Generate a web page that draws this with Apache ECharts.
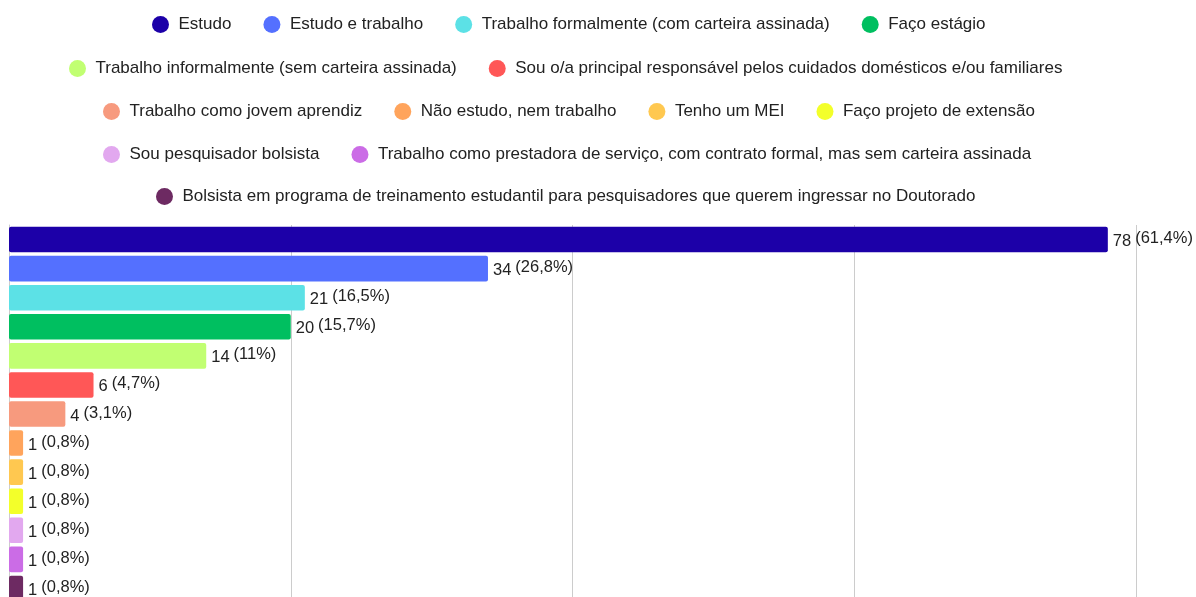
<!DOCTYPE html>
<html lang="pt">
<head>
    <meta charset="UTF-8">
    <title>Situação de estudo e trabalho</title>
    <style>
        html, body {
            margin: 0;
            padding: 0;
            overflow: hidden;
            background: #ffffff;
        }
        #main {
            width: 1196px;
            height: 640px;
        }
    </style>
    <script type="text/javascript" src="https://cdn.jsdelivr.net/npm/echarts@6/dist/echarts.min.js"></script>
</head>
<body>
<div id="main"></div>
<script type="text/javascript">
    var categories = [
        "Estudo",
        "Estudo e trabalho",
        "Trabalho formalmente (com carteira assinada)",
        "Faço estágio",
        "Trabalho informalmente (sem carteira assinada)",
        "Sou o/a principal responsável pelos cuidados domésticos e/ou familiares",
        "Trabalho como jovem aprendiz",
        "Não estudo, nem trabalho",
        "Tenho um MEI",
        "Faço projeto de extensão",
        "Sou pesquisador bolsista",
        "Trabalho como prestadora de serviço, com contrato formal, mas sem carteira assinada",
        "Bolsista em programa de treinamento estudantil para pesquisadores que querem ingressar no Doutorado"
    ];
    var counts = [78, 34, 21, 20, 14, 6, 4, 1, 1, 1, 1, 1, 1];
    var percents = ["61,4%", "26,8%", "16,5%", "15,7%", "11%", "4,7%", "3,1%",
        "0,8%", "0,8%", "0,8%", "0,8%", "0,8%", "0,8%"];
    var colors = ["#1c00a8", "#5470ff", "#5ce1e6", "#00bf60", "#c1ff72", "#ff5757",
        "#f79a7e", "#ffa45c", "#ffc850", "#f3ff2a", "#e2a8ef", "#cb6ce6", "#6d2a62"];
    var xTicks = [0, 20, 40, 60, 80];

    // legend rows as they wrap in the original (centred around x=568)
    var legendRows = [[0, 1, 2, 3], [4, 5], [6, 7, 8, 9], [10, 11], [12]];
    var legendLeft = [152, 69, 103, 103, 156];
    var legendTop = [16, 60, 103, 146, 188];

    var chart = echarts.init(document.getElementById('main'));

    var legends = [];
    for (var r = 0; r < legendRows.length; r++) {
        var names = [];
        for (var k = 0; k < legendRows[r].length; k++) {
            names.push(categories[legendRows[r][k]]);
        }
        legends.push({
            data: names,
            left: legendLeft[r],
            top: legendTop[r],
            padding: 0,
            icon: 'circle',
            itemWidth: 26,
            itemHeight: 17,
            itemGap: 32,
            selectedMode: false,
            textStyle: {
                fontSize: 17,
                color: '#222222',
                fontFamily: 'Liberation Sans, Arial, sans-serif'
            }
        });
    }

    var series = [];
    for (var i = 0; i < categories.length; i++) {
        var d = [];
        for (var j = 0; j < categories.length; j++) {
            d.push(j === i ? counts[i] : '-');
        }
        series.push({
            name: categories[i],
            type: 'bar',
            stack: 'all',
            data: d,
            barCategoryGap: '12%',
            itemStyle: {
                color: colors[i],
                borderRadius: 2
            },
            label: {
                show: true,
                position: 'right',
                distance: 5,
                formatter: function (p) {
                    return '{v|' + counts[p.dataIndex] + '}{p|(' + percents[p.dataIndex] + ')}';
                },
                rich: {
                    v: {
                        fontSize: 16.5,
                        color: '#222222',
                        fontFamily: 'Liberation Sans, Arial, sans-serif',
                        padding: [4, 4, 0, 0]
                    },
                    p: {
                        fontSize: 16.5,
                        color: '#222222',
                        fontFamily: 'Liberation Sans, Arial, sans-serif',
                        padding: [0, 0, 2, 0]
                    }
                }
            }
        });
    }

    var option = {
        animation: false,
        legend: legends,
        grid: {
            left: 9,
            right: 60,
            top: 225,
            height: 378
        },
        xAxis: {
            type: 'value',
            min: xTicks[0],
            max: xTicks[xTicks.length - 1],
            interval: xTicks[1] - xTicks[0],
            axisLabel: {show: false},
            axisLine: {show: false},
            axisTick: {show: false},
            splitLine: {
                lineStyle: {color: '#cccccc', width: 1}
            }
        },
        yAxis: {
            type: 'category',
            data: categories,
            inverse: true,
            axisLabel: {show: false},
            axisTick: {show: false},
            axisLine: {
                lineStyle: {color: '#cccccc'}
            }
        },
        series: series
    };
    chart.setOption(option);
</script>
</body>
</html>
